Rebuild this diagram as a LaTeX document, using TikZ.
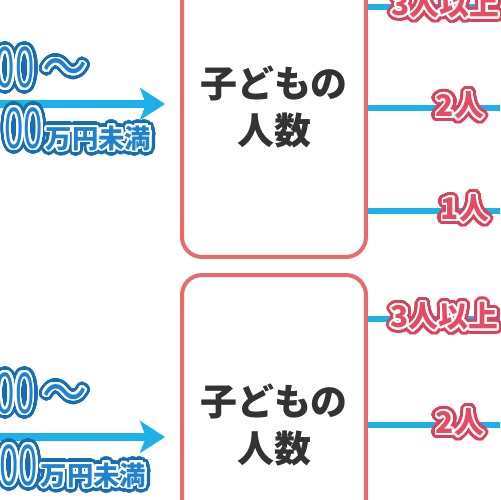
\documentclass[tikz,border=0pt]{standalone}
\usepackage{fontspec}
\setmainfont{Noto Sans CJK JP}
\newfontfamily\narrowjp{Noto Sans CJK JP}[FakeStretch=0.62]
\newfontfamily\wavejp{Noto Sans CJK JP}[FakeStretch=0.8]
\usepackage[copies]{contour}
\usetikzlibrary{arrows.meta}
\definecolor{boxred}{HTML}{E86A6A}
\definecolor{lineblue}{HTML}{1CB1E7}
\definecolor{textblue}{HTML}{1F82CE}
\definecolor{edgeblue}{HTML}{176DB4}
\definecolor{textred}{HTML}{E64B62}
\definecolor{edgered}{HTML}{DC4158}
\definecolor{darktext}{HTML}{333333}
\newcommand\rimtext[3]{%
  \makebox[0pt][l]{\color{#1}\contourlength{2.9pt}\contour[48]{#1}{#3}}%
  {\color{#2}\contourlength{1.1pt}\contour[32]{white}{#3}}}
\begin{document}
\begin{tikzpicture}[
        x=0.02cm, y=-0.02cm,
        thick
    ]
    \tikzset{
        kidsbox/.style = {rectangle, rounded corners=0.4cm, draw=boxred, line width=0.08cm, fill=white, align=center, minimum width=3.68cm, minimum height=6cm, text=darktext, font=\bfseries\fontsize{21}{27}\selectfont},
        branch/.style = {draw=lineblue, line width=0.12cm},
        flow/.style = {draw=lineblue, line width=0.16cm, -{Stealth[length=0.5cm,width=0.64cm,inset=0.12cm]}, shorten >=0.3cm},
        countlabel/.style = {inner sep=0pt, font=\bfseries\fontsize{17}{17}\selectfont},
        incomelabel/.style = {inner sep=0pt, font=\narrowjp\fontsize{32}{32}\selectfont},
    }
    \newcommand\wave{{\wavejp 〜}}
    \newcommand\yen{{\normalfont\bfseries\fontsize{15}{15}\selectfont 万円未満}}
    \useasboundingbox (0,0) rectangle (500,500);
    \clip (0,0) rectangle (500,500);
    \node[kidsbox] (kids1) at (274,107) {子どもの\\人数};
    \node[kidsbox] (kids2) at (274,425) {子どもの\\人数};
    \coordinate (end11) at (510,7);
    \coordinate (end12) at (510,108);
    \coordinate (end13) at (510,211);
    \coordinate (end21) at (510,319);
    \coordinate (end22) at (510,425);
    \draw[branch] (kids1.east |- end11) -- (end11);
    \draw[branch] (kids1.east |- end12) -- (end12);
    \draw[branch] (kids1.east |- end13) -- (end13);
    \draw[branch] (kids2.east |- end21) -- (end21);
    \draw[branch] (kids2.east |- end22) -- (end22);
    \node[countlabel, anchor=west] (three1) at (391,7) {\rimtext{edgered}{textred}{3人以上}};
    \node[countlabel] (two1) at (460,108) {\rimtext{edgered}{textred}{2人}};
    \node[countlabel] (one1) at (465,211) {\rimtext{edgered}{textred}{1人}};
    \node[countlabel, anchor=west] (three2) at (390,319) {\rimtext{edgered}{textred}{3人以上}};
    \node[countlabel] (two2) at (460,425) {\rimtext{edgered}{textred}{2人}};
    \coordinate (start1) at (-10,104);
    \coordinate (start2) at (-10,437);
    \draw[flow] (start1) -- (kids1.west |- start1);
    \draw[flow] (start2) -- (kids2.west |- start2);
    \node[incomelabel, anchor=base east] (low1) at (88,88) {\rimtext{edgeblue}{textblue}{00\kern4.5pt\wave}};
    \node[incomelabel, anchor=base east] (high1) at (152,148) {\rimtext{edgeblue}{textblue}{00\kern1.5pt\yen}};
    \node[incomelabel, anchor=base east] (low2) at (88,413) {\rimtext{edgeblue}{textblue}{00\kern4.5pt\wave}};
    \node[incomelabel, anchor=base east] (high2) at (147,485) {\rimtext{edgeblue}{textblue}{00\kern1.5pt\yen}};
\end{tikzpicture}
\end{document}
